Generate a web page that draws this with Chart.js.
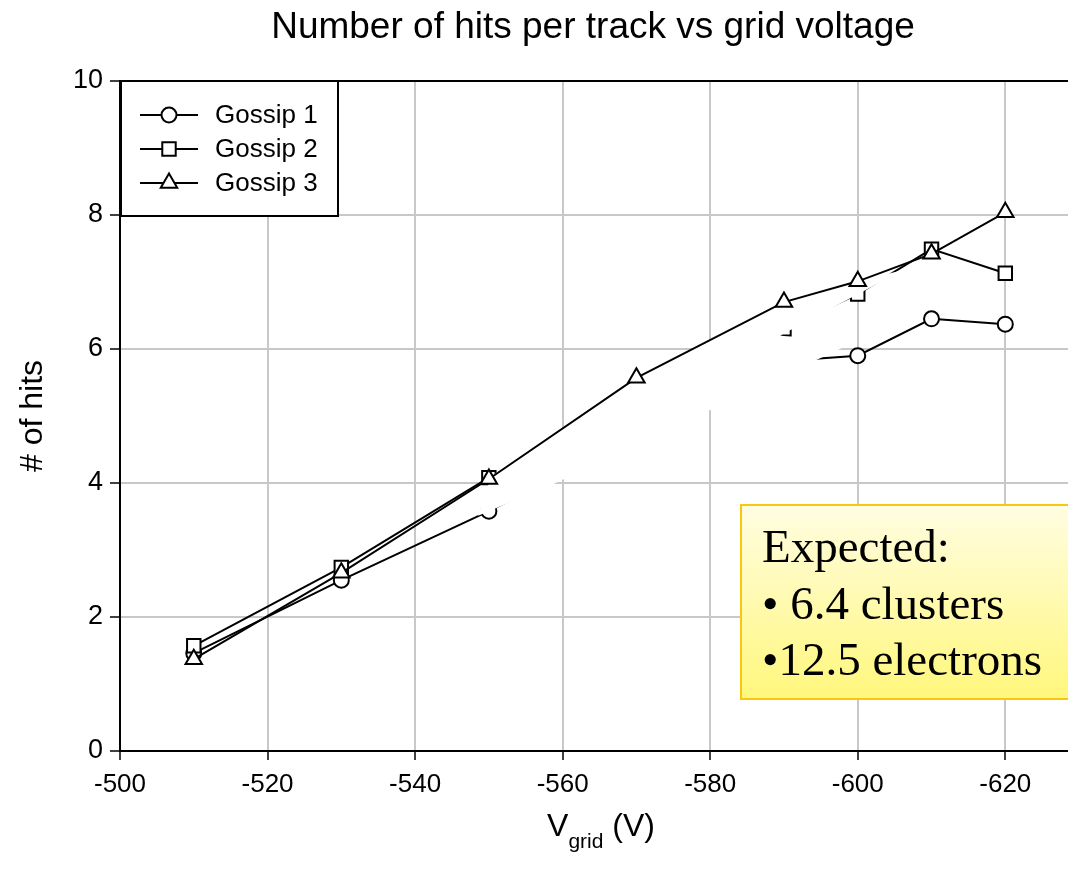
<!DOCTYPE html>
<html>
<head>
<meta charset="utf-8">
<script src="https://cdn.jsdelivr.net/npm/chart.js@4.4.1/dist/chart.umd.min.js"></script>
<style>
  html, body { margin: 0; padding: 0; background: #fff; }
  #wrap { width: 1068px; height: 873px; }
</style>
</head>
<body>
<div id="wrap"><canvas id="c" width="1068" height="873"></canvas></div>
<script>
// Hits per track for each Gossip detector, by grid voltage (V)
const seriesNames = ['Gossip 1', 'Gossip 2', 'Gossip 3'];
const voltsG1 = [-510, -530, -550, -590, -600, -610, -620];
const hitsG1  = [1.46, 2.55, 3.58, 5.82, 5.90, 6.45, 6.37];
const voltsG2 = [-510, -530, -550, -590, -600, -610, -620];
const hitsG2  = [1.57, 2.74, 4.08, 6.30, 6.82, 7.49, 7.13];
const voltsG3 = [-510, -530, -550, -570, -590, -600, -610, -620];
const hitsG3  = [1.37, 2.66, 4.06, 5.57, 6.70, 7.01, 7.42, 8.04];

const noteLines = ['Expected:', '\u2022 6.4 clusters', '\u202212.5 electrons'];

const SANS = "'Liberation Sans', Arial, Helvetica, sans-serif";
const SERIF = "'Liberation Serif', 'Times New Roman', serif";

const toXY = (xs, ys) => xs.map((v, i) => ({ x: v, y: ys[i] }));

// white panel lying over the Gossip 1 / Gossip 2 traces and under Gossip 3 (volts, hits)
const panelOutline = [
  [-550.31, 4.10], [-570, 5.57], [-590, 6.70], [-600, 7.01], [-606.17, 7.18],
  [-589.49, 6.20], [-598.71, 6.06], [-580.00, 5.09], [-557.90, 3.94],
  [-554.24, 3.78], [-551.12, 3.63], [-548.54, 3.51]
];

function drawMarker(ctx, style, x, y, r) {
  ctx.beginPath();
  if (style === 'circle') {
    ctx.arc(x, y, r, 0, Math.PI * 2);
  } else if (style === 'rect') {
    const s = r * Math.SQRT1_2;
    ctx.rect(x - s, y - s, 2 * s, 2 * s);
  } else {
    const a = Math.PI / 3 * 2;
    ctx.moveTo(x, y - r);
    ctx.lineTo(x + Math.sin(a) * r, y - Math.cos(a) * r);
    ctx.lineTo(x - Math.sin(a) * r, y - Math.cos(a) * r);
    ctx.closePath();
  }
  ctx.fillStyle = '#fff';
  ctx.fill();
  ctx.lineWidth = 2;
  ctx.strokeStyle = '#000';
  ctx.stroke();
}

const markerStyles = ['circle', 'rect', 'triangle'];
const markerRadii = [7.5, 9.5, 9.5];

const decor = {
  id: 'decor',
  beforeDatasetDraw(chart, args) {
    if (args.index !== 2) return;
    const { ctx, scales: { x, y } } = chart;
    ctx.save();
    ctx.beginPath();
    panelOutline.forEach(([vx, vy], i) => {
      const px = x.getPixelForValue(vx), py = y.getPixelForValue(vy);
      if (i === 0) ctx.moveTo(px, py); else ctx.lineTo(px, py);
    });
    ctx.closePath();
    ctx.fillStyle = '#fff';
    ctx.fill();
    ctx.restore();
  },
  afterDraw(chart) {
    const { ctx, chartArea: a } = chart;
    ctx.save();

    // top frame line
    ctx.strokeStyle = '#000';
    ctx.lineWidth = 2;
    ctx.beginPath();
    ctx.moveTo(a.left, a.top);
    ctx.lineTo(a.right, a.top);
    ctx.stroke();

    // title
    ctx.fillStyle = '#000';
    ctx.textAlign = 'center';
    ctx.textBaseline = 'middle';
    ctx.font = '37px ' + SANS;
    ctx.fillText('Number of hits per track vs grid voltage', 593, 28);

    // y axis title
    ctx.save();
    ctx.translate(33, (a.top + a.bottom) / 2);
    ctx.rotate(-Math.PI / 2);
    ctx.font = '32px ' + SANS;
    ctx.fillText('# of hits', 0, 0);
    ctx.restore();

    // x axis title with subscript
    ctx.textAlign = 'left';
    ctx.textBaseline = 'alphabetic';
    const big = '32px ' + SANS, small = '21px ' + SANS;
    ctx.font = big; const wV = ctx.measureText('V').width;
    ctx.font = small; const wSub = ctx.measureText('grid').width;
    ctx.font = big; const wRest = ctx.measureText(' (V)').width;
    let tx = 601 - (wV + wSub + wRest) / 2;
    const base = 836;
    ctx.font = big; ctx.fillText('V', tx, base); tx += wV;
    ctx.font = small; ctx.fillText('grid', tx, base + 12); tx += wSub;
    ctx.font = big; ctx.fillText(' (V)', tx, base);

    // legend
    const lx = 121, ly = 81, lw = 217, lh = 135;
    ctx.fillStyle = '#fff';
    ctx.fillRect(lx, ly, lw, lh);
    ctx.lineWidth = 2;
    ctx.strokeStyle = '#000';
    ctx.strokeRect(lx, ly, lw, lh);
    ctx.font = '26px ' + SANS;
    ctx.textBaseline = 'middle';
    seriesNames.forEach((name, i) => {
      const ry = 115 + i * 34;
      ctx.beginPath();
      ctx.moveTo(140, ry); ctx.lineTo(198, ry);
      ctx.lineWidth = 2; ctx.strokeStyle = '#000'; ctx.stroke();
      drawMarker(ctx, markerStyles[i], 169, ry, markerRadii[i]);
      ctx.fillStyle = '#000';
      ctx.fillText(name, 215, ry + 1);
    });

    // note box
    const bx = 741, by = 505, bw = 360, bh = 194;
    const g = ctx.createLinearGradient(0, by, 0, by + bh);
    g.addColorStop(0, '#fffde2');
    g.addColorStop(1, '#fff77c');
    ctx.fillStyle = g;
    ctx.fillRect(bx, by, bw, bh);
    ctx.strokeStyle = '#f9c80e';
    ctx.lineWidth = 2;
    ctx.strokeRect(bx, by, bw, bh);
    ctx.fillStyle = '#000';
    ctx.font = '47px ' + SERIF;
    ctx.textBaseline = 'alphabetic';
    noteLines.forEach((t, i) => ctx.fillText(t, 762, 562 + i * 56.5));

    ctx.restore();
  }
};

const lineSet = (label, xs, ys, style, radius, order) => ({
  label,
  data: toXY(xs, ys),
  borderColor: '#000',
  borderWidth: 2,
  pointStyle: style,
  pointRadius: radius,
  pointBackgroundColor: '#fff',
  pointBorderColor: '#000',
  pointBorderWidth: 2,
  fill: false,
  tension: 0,
  order
});

new Chart(document.getElementById('c'), {
  type: 'line',
  data: {
    datasets: [
      lineSet(seriesNames[0], voltsG1, hitsG1, 'circle', markerRadii[0], 2),
      lineSet(seriesNames[1], voltsG2, hitsG2, 'rect', markerRadii[1], 1),
      lineSet(seriesNames[2], voltsG3, hitsG3, 'triangle', markerRadii[2], 0)
    ]
  },
  options: {
    responsive: false,
    animation: false,
    events: [],
    layout: { autoPadding: false, padding: { top: 81, right: 0, bottom: 0, left: 0 } },
    plugins: {
      legend: { display: false },
      tooltip: { enabled: false },
      title: { display: false }
    },
    scales: {
      x: {
        type: 'linear',
        reverse: true,
        min: -628.5,
        max: -500,
        ticks: {
          stepSize: 20,
          includeBounds: false,
          color: '#000',
          font: { family: SANS, size: 26 },
          padding: 9,
          maxRotation: 0,
          autoSkip: false
        },
        grid: { color: '#c8c8c8', lineWidth: 2, tickColor: '#000', tickLength: 9, tickWidth: 1.5 },
        border: { color: '#000', width: 2 },
        afterFit(s) { s.height = 122; s.paddingLeft = 0; s.paddingRight = 0; }
      },
      y: {
        min: 0,
        max: 10,
        ticks: {
          stepSize: 2,
          color: '#000',
          font: { family: SANS, size: 27 },
          padding: 7
        },
        grid: { color: '#c8c8c8', lineWidth: 2, tickColor: '#000', tickLength: 10, tickWidth: 1.5 },
        border: { color: '#000', width: 2 },
        afterFit(s) { s.width = 120; s.paddingTop = 0; s.paddingBottom = 0; }
      }
    }
  },
  plugins: [decor]
});
</script>
</body>
</html>
